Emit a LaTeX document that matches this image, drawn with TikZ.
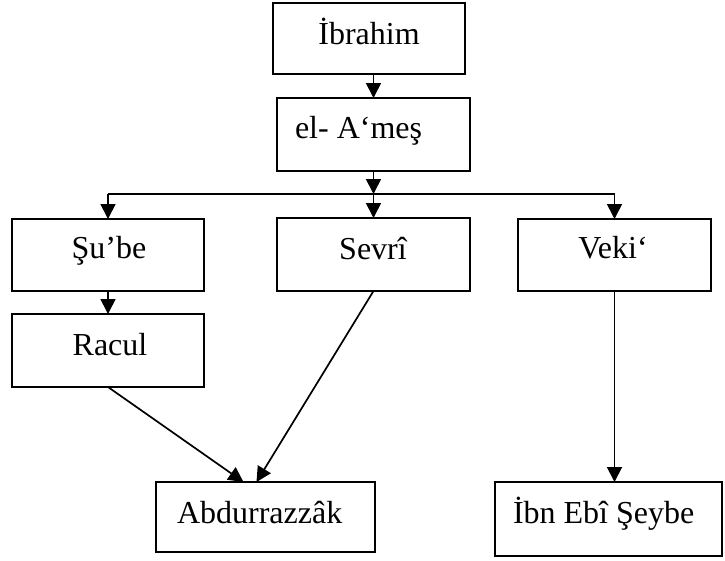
\documentclass[tikz,border=0pt]{standalone}
\usepackage{fontspec}
\setmainfont{Liberation Serif}
\usetikzlibrary{arrows.meta}
\begin{document}
\begin{tikzpicture}[x=1pt,y=-1pt,
  box/.style={draw, line width=2.2pt, rectangle, inner sep=0pt, outer sep=0pt},
  lbl/.style={inner sep=0pt, outer sep=0pt, font=\fontsize{32}{38}\selectfont},
  conn/.style={line width=1.7pt, -{Triangle[length=15pt,width=15pt]}},
  plain/.style={line width=1.7pt}]
\useasboundingbox (0,0) rectangle (725,560);
\clip (0,0) rectangle (725,560);
% boxes
\node[box, minimum width=192pt, minimum height=71pt] (ibr) at (369,38.5) {};
\node[box, minimum width=193pt, minimum height=73pt] (ames) at (373.5,134.5) {};
\node[box, minimum width=192pt, minimum height=72pt] (sube) at (108,255) {};
\node[box, minimum width=193pt, minimum height=73pt] (sevri) at (373.5,254.5) {};
\node[box, minimum width=193pt, minimum height=72pt] (veki) at (614.5,255) {};
\node[box, minimum width=192pt, minimum height=73pt] (racul) at (108,350.5) {};
\node[box, minimum width=219pt, minimum height=70pt] (abd) at (265.5,517) {};
\node[box, minimum width=227pt, minimum height=74pt] (ibn) at (608.5,519) {};
% texts
\node[lbl, anchor=base] (tibr) at (369,44) {İbrahim};
\node[lbl, anchor=base west] (tames) at (295,138) {el- A‘meş};
\node[lbl, anchor=base] (tsube) at (109,258) {Şu’be};
\node[lbl, anchor=base] (tsevri) at (373,259) {Sevrî};
\node[lbl, anchor=base] (tveki) at (613,258) {Veki‘};
\node[lbl, anchor=base] (tracul) at (110,355) {Racul};
\node[lbl, anchor=base west] (tabd) at (177,523) {Abdurrazzâk};
\node[lbl, anchor=base west] (tibn) at (513,523) {İbn Ebî Şeybe};
% connectors
\coordinate (bus) at (373.5,194);
\draw[conn] (ames.north |- ibr.south) -- (ames.north);
\draw[conn] (ames.south) -- (bus);
\draw[plain] (sube.north |- bus) -- (veki.north |- bus);
\draw[conn] (sube.north |- bus) -- (sube.north);
\draw[conn] (sevri.north |- bus) -- (sevri.north);
\draw[conn] (veki.north |- bus) -- (veki.north);
\draw[conn] (sube.south) -- (racul.north);
\draw[conn] (racul.south) -- ([xshift=-22pt]abd.north);
\draw[conn] (sevri.south) -- ([xshift=-9pt]abd.north);
\draw[conn] (veki.south) -- (veki.south |- ibn.north);
\end{tikzpicture}
\end{document}
